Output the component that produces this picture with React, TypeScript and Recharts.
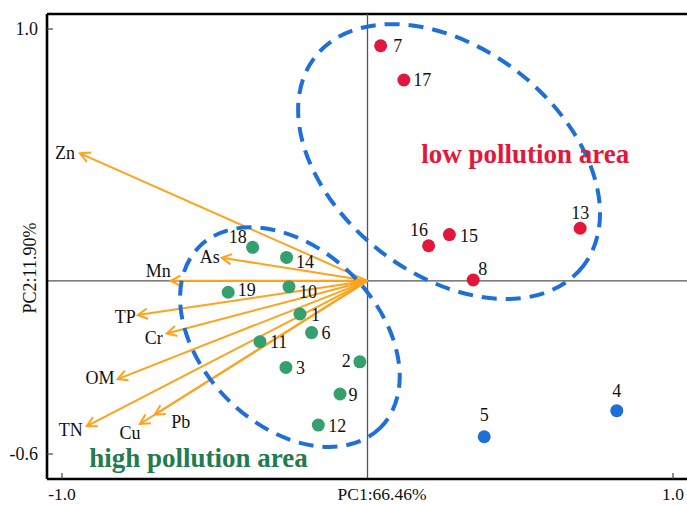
import React from 'react';
import { ScatterChart, Scatter, XAxis, YAxis, ReferenceLine, ReferenceDot } from 'recharts';

const FONT = '"Liberation Serif", "Times New Roman", serif';

// ---- axes ----
const xDomain: [number, number] = [-1.0491, 1.0458];
const yDomain: [number, number] = [-0.6941, 1.0565];
const xTicks = [-1.0, 1.0];
const xTickLabels = ['-1.0', '1.0'];
const yTicks = [-0.6, 1.0];
const yTickLabels = ['-0.6', '1.0'];
const xTitle = 'PC1:66.46%';
const yTitle = 'PC2:11.90%';
const originX = 0;
const originY = 0.052;

// ---- samples ----
const lowIds = ['7', '17', '16', '15', '8', '13'];
const lowX = [0.043, 0.119, 0.2, 0.268, 0.346, 0.696];
const lowY = [0.937, 0.808, 0.184, 0.226, 0.055, 0.25];

const highIds = ['18', '14', '19', '10', '1', '6', '11', '3', '2', '9', '12'];
const highX = [-0.376, -0.265, -0.456, -0.257, -0.221, -0.183, -0.352, -0.267, -0.025, -0.09, -0.161];
const highY = [0.178, 0.14, 0.009, 0.03, -0.073, -0.143, -0.177, -0.274, -0.253, -0.374, -0.491];

const otherIds = ['5', '4'];
const otherX = [0.382, 0.816];
const otherY = [-0.535, -0.437];

// ---- loadings ----
const varNames = ['Zn', 'As', 'Mn', 'TP', 'Cr', 'OM', 'TN', 'Cu', 'Pb'];
const varX = [-0.941, -0.477, -0.644, -0.752, -0.657, -0.818, -0.919, -0.745, -0.696];
const varY = [0.532, 0.139, 0.052, -0.077, -0.146, -0.318, -0.495, -0.487, -0.452];

// ---- group annotations ----
const groupNames = ['low pollution area', 'high pollution area'];
const groupLabelX = [0.516, -0.553];
const groupLabelY = [0.495, -0.648];
const ellipseCX = [0.267, -0.254];
const ellipseCY = [0.501, -0.16];

// ---- styles ----
const RED = '#E2173B';
const GREEN = '#33A06E';
const BLUE = '#1F6FD9';
const ORANGE = '#FFA21C';
const ELLIPSE_STYLE = [
  { rx: 170, ry: 113, angle: 38 },
  { rx: 128, ry: 88, angle: 45 },
];
const GROUP_COLORS = [RED, '#237B4E'];

type Place = { dx: number; dy: number; anchor: 'start' | 'middle' | 'end' };
const DEFAULT_PLACE: Place = { dx: 10, dy: 6.5, anchor: 'start' };
const pointPlace: Record<string, Place> = {
  '7': { dx: 12.5, dy: 6.5, anchor: 'start' },
  '17': { dx: 9.5, dy: 6, anchor: 'start' },
  '16': { dx: -9.5, dy: -9.5, anchor: 'middle' },
  '15': { dx: 10.5, dy: 7, anchor: 'start' },
  '8': { dx: 5, dy: -5, anchor: 'start' },
  '13': { dx: 0, dy: -9, anchor: 'middle' },
  '5': { dx: 0, dy: -16, anchor: 'middle' },
  '4': { dx: 0, dy: -14, anchor: 'middle' },
  '18': { dx: -6, dy: -4.5, anchor: 'end' },
  '14': { dx: 9.5, dy: 11, anchor: 'start' },
  '19': { dx: 9.5, dy: 4, anchor: 'start' },
  '10': { dx: 10, dy: 11.5, anchor: 'start' },
  '1': { dx: 11, dy: 6.5, anchor: 'start' },
  '2': { dx: -9, dy: 5, anchor: 'end' },
  '9': { dx: 8.5, dy: 7, anchor: 'start' },
};

const varPlace: Record<string, Place> = {
  Zn: { dx: -5, dy: 6, anchor: 'end' },
  As: { dx: -2, dy: 5.5, anchor: 'end' },
  Mn: { dx: 0, dy: -4, anchor: 'end' },
  TP: { dx: -2, dy: 7.5, anchor: 'end' },
  Cr: { dx: -4, dy: 11, anchor: 'end' },
  OM: { dx: -3, dy: 4.5, anchor: 'end' },
  TN: { dx: -4, dy: 10, anchor: 'end' },
  Cu: { dx: -10, dy: 15, anchor: 'middle' },
  Pb: { dx: 16.5, dy: 13, anchor: 'start' },
};

const build = (ids: string[], xs: number[], ys: number[]) =>
  ids.map((id, i) => ({ id, x: xs[i], y: ys[i] }));

const lowData = build(lowIds, lowX, lowY);
const highData = build(highIds, highX, highY);
const otherData = build(otherIds, otherX, otherY);

const makePoint = (color: string) => (p: any) => {
  const { cx, cy, payload } = p;
  const pl = pointPlace[payload.id] || DEFAULT_PLACE;
  return (
    <g>
      <circle cx={cx} cy={cy} r={6.5} fill={color} />
      <text
        x={cx + pl.dx}
        y={cy + pl.dy}
        textAnchor={pl.anchor}
        fontFamily={FONT}
        fontSize={18}
        fill="#111"
      >
        {payload.id}
      </text>
    </g>
  );
};

const ArrowShape = (props: any) => {
  const { x1, y1, x2, y2, name } = props;
  if (x1 == null) return null;
  const ang = Math.atan2(y2 - y1, x2 - x1);
  const L = 11;
  const half = (28 * Math.PI) / 180;
  const ax = x2 - L * Math.cos(ang - half);
  const ay = y2 - L * Math.sin(ang - half);
  const bx = x2 - L * Math.cos(ang + half);
  const by = y2 - L * Math.sin(ang + half);
  const pl = varPlace[name];
  return (
    <g>
      <line x1={x1} y1={y1} x2={x2} y2={y2} stroke={ORANGE} strokeWidth={2} />
      <polyline
        points={`${ax},${ay} ${x2},${y2} ${bx},${by}`}
        fill="none"
        stroke={ORANGE}
        strokeWidth={2}
        strokeLinejoin="miter"
      />
      <text x={x2 + pl.dx} y={y2 + pl.dy} textAnchor={pl.anchor} fontFamily={FONT} fontSize={18} fill="#111">
        {name}
      </text>
    </g>
  );
};

const XTick = (p: any) => {
  const { x, y, payload } = p;
  const i = xTicks.indexOf(payload.value);
  return (
    <g>
      <line x1={x} y1={y} x2={x} y2={y - 6} stroke="#444" strokeWidth={1.2} />
      <text x={x} y={y + 21} textAnchor="middle" fontFamily={FONT} fontSize={17.5} fill="#111">
        {xTickLabels[i]}
      </text>
    </g>
  );
};

const YTick = (p: any) => {
  const { x, y, payload } = p;
  const i = yTicks.indexOf(payload.value);
  return (
    <g>
      <line x1={x} y1={y} x2={x + 6} y2={y} stroke="#444" strokeWidth={1.2} />
      <text x={x - 9} y={y + 6} textAnchor="end" fontFamily={FONT} fontSize={18} fill="#111">
        {yTickLabels[i]}
      </text>
    </g>
  );
};

export default function App() {
  return (
    <div style={{ position: 'absolute', left: 0, top: 0, background: '#fff' }}>
      <ScatterChart width={687} height={505} margin={{ top: 14, right: 0, bottom: 0, left: 0 }}>
        <XAxis
          type="number"
          dataKey="x"
          domain={xDomain}
          allowDataOverflow
          ticks={xTicks}
          interval={0}
          tickSize={0}
          tickMargin={0}
          tickLine={false}
          tick={<XTick />}
          height={26}
          axisLine={{ stroke: '#000', strokeWidth: 2.6 }}
          label={{
            content: () => (
              <text x={382} y={500} textAnchor="middle" fontFamily={FONT} fontSize={17.5} fill="#111">
                {xTitle}
              </text>
            ),
          }}
        />
        <YAxis
          type="number"
          dataKey="y"
          domain={yDomain}
          allowDataOverflow
          ticks={yTicks}
          interval={0}
          tickSize={0}
          tickMargin={0}
          tickLine={false}
          tick={<YTick />}
          width={47}
          axisLine={{ stroke: '#000', strokeWidth: 2.6 }}
          label={{
            content: () => (
              <text
                x={36}
                y={268}
                textAnchor="middle"
                transform="rotate(-90 36 268)"
                fontFamily={FONT}
                fontSize={18}
                fill="#111"
              >
                {yTitle}
              </text>
            ),
          }}
        />
        <ReferenceLine y={yDomain[1]} stroke="#000" strokeWidth={2.6} />
        <ReferenceLine x={originX} stroke="#555" strokeWidth={1.3} />
        <ReferenceLine y={originY} stroke="#555" strokeWidth={1.3} />
        {varNames.map((n, i) => (
          <ReferenceLine
            key={n}
            segment={[
              { x: originX, y: originY },
              { x: varX[i], y: varY[i] },
            ]}
            shape={(p: any) => <ArrowShape {...p} name={n} />}
          />
        ))}
        {groupNames.map((g, i) => (
          <ReferenceDot
            key={'e' + g}
            x={ellipseCX[i]}
            y={ellipseCY[i]}
            r={1}
            shape={(p: any) => (
              <ellipse
                cx={p.cx}
                cy={p.cy}
                rx={ELLIPSE_STYLE[i].rx}
                ry={ELLIPSE_STYLE[i].ry}
                transform={`rotate(${ELLIPSE_STYLE[i].angle} ${p.cx} ${p.cy})`}
                fill="none"
                stroke={BLUE}
                strokeWidth={4}
                strokeDasharray="15 9"
              />
            )}
          />
        ))}
        {groupNames.map((g, i) => (
          <ReferenceDot
            key={'t' + g}
            x={groupLabelX[i]}
            y={groupLabelY[i]}
            r={1}
            shape={(p: any) => (
              <text
                x={p.cx}
                y={p.cy}
                textAnchor="middle"
                fontFamily={FONT}
                fontWeight="bold"
                fontSize={27}
                fill={GROUP_COLORS[i]}
              >
                {g}
              </text>
            )}
          />
        ))}
        <Scatter data={lowData} isAnimationActive={false} shape={makePoint(RED)} />
        <Scatter data={highData} isAnimationActive={false} shape={makePoint(GREEN)} />
        <Scatter data={otherData} isAnimationActive={false} shape={makePoint(BLUE)} />
      </ScatterChart>
    </div>
  );
}
